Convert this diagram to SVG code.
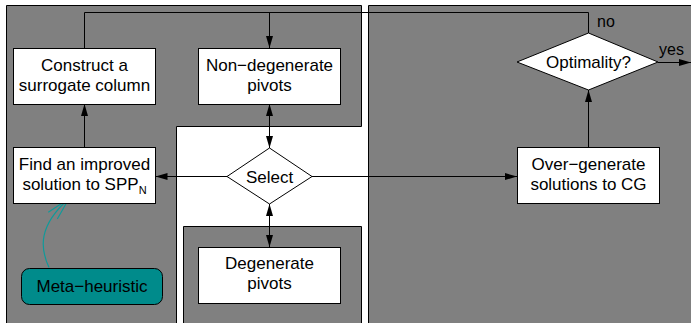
<svg xmlns="http://www.w3.org/2000/svg" width="691" height="323" viewBox="0 0 691 323">
  <style>
    .panel { fill: #808080; stroke: #000; stroke-width: 1; }
    .box { fill: #fff; stroke: #000; stroke-width: 1; }
    .meta { fill: #008b8b; stroke: #000; stroke-width: 1; }
    .lbl { font-family: "Liberation Sans", Arial, sans-serif; font-size: 17px; fill: #000; text-anchor: middle; }
    .small { font-family: "Liberation Sans", Arial, sans-serif; font-size: 16px; fill: #000; }
    .edge { fill: none; stroke: #000; stroke-width: 1; }
    .hint { fill: none; stroke: #109a9a; stroke-width: 1.2; }
  </style>
  <defs>
    <marker id="arrow" markerUnits="userSpaceOnUse" markerWidth="13" markerHeight="8" refX="12" refY="3.5" orient="auto-start-reverse">
      <path d="M0,0 L12,3.5 L0,7 z" fill="#000"/>
    </marker>
  </defs>

  <rect width="691" height="323" fill="#fff"/>

  <!-- shaded regions -->
  <g id="regions">
    <path class="panel" d="M6.5,5.5 H361.5 V126.5 H176.5 V330 H6.5 Z"/>
    <path class="panel" d="M183.5,226.5 H361.5 V330 H183.5 Z"/>
    <path class="panel" d="M368.5,5.5 H700 V330 H368.5 Z"/>
  </g>

  <!-- connectors -->
  <g id="connectors">
    <path class="edge" d="M588.5,33 V12.5 H84.5 V48"/>
    <path class="edge" d="M269.5,12.5 V48" marker-end="url(#arrow)"/>
    <path class="edge" d="M84.5,147 V104" marker-end="url(#arrow)"/>
    <path class="edge" d="M269.5,104 V148" marker-start="url(#arrow)" marker-end="url(#arrow)"/>
    <path class="edge" d="M269.5,204 V247" marker-start="url(#arrow)" marker-end="url(#arrow)"/>
    <path class="edge" d="M227,176.5 H155.5" marker-end="url(#arrow)"/>
    <path class="edge" d="M312,176.5 H517" marker-end="url(#arrow)"/>
    <path class="edge" d="M588.5,147 V90" marker-end="url(#arrow)"/>
    <path class="edge" d="M658,62.5 H691" marker-end="url(#arrow)"/>
    <text class="small" x="597" y="27">no</text>
    <text class="small" x="659" y="55">yes</text>
    <!-- heuristic hint arrow -->
    <path class="hint" d="M49,267.5 C40,248 38,226 69,198.5"/>
    <path class="hint" d="M48.3,212.3 L69,198.5 L57.3,219"/>
  </g>

  <g id="construct">
    <rect class="box" x="13.5" y="48.5" width="142" height="56"/>
    <text class="lbl" x="84.5" y="71">Construct a</text>
    <text class="lbl" x="84.5" y="91">surrogate column</text>
  </g>

  <g id="nondegenerate">
    <rect class="box" x="198.5" y="48.5" width="142" height="56"/>
    <text class="lbl" x="269.5" y="71">Non−degenerate</text>
    <text class="lbl" x="269.5" y="91">pivots</text>
  </g>

  <g id="improve">
    <rect class="box" x="13.5" y="147.5" width="142" height="56"/>
    <text class="lbl" x="84.5" y="169.5">Find an improved</text>
    <text class="lbl" x="84.5" y="189.5">solution to SPP<tspan font-size="11" dy="4">N</tspan></text>
  </g>

  <g id="select">
    <path class="box" d="M269.5,148 L312,176.5 L269.5,204 L227,176.5 Z"/>
    <text class="lbl" x="269.5" y="182.5">Select</text>
  </g>

  <g id="degenerate">
    <rect class="box" x="198.5" y="247.5" width="142" height="56"/>
    <text class="lbl" x="269.5" y="268.5">Degenerate</text>
    <text class="lbl" x="269.5" y="288.5">pivots</text>
  </g>

  <g id="metaheuristic">
    <rect class="meta" x="21.5" y="268.5" width="141" height="36" rx="8"/>
    <text class="lbl" x="92" y="292">Meta−heuristic</text>
  </g>

  <g id="overgenerate">
    <rect class="box" x="517.5" y="147.5" width="142" height="56"/>
    <text class="lbl" x="588.5" y="169.5">Over−generate</text>
    <text class="lbl" x="588.5" y="189.5">solutions to CG</text>
  </g>

  <g id="optimality">
    <path class="box" d="M588.5,33 L658,62 L588.5,90 L517,62 Z"/>
    <text class="lbl" x="588.5" y="68">Optimality?</text>
  </g>
</svg>
